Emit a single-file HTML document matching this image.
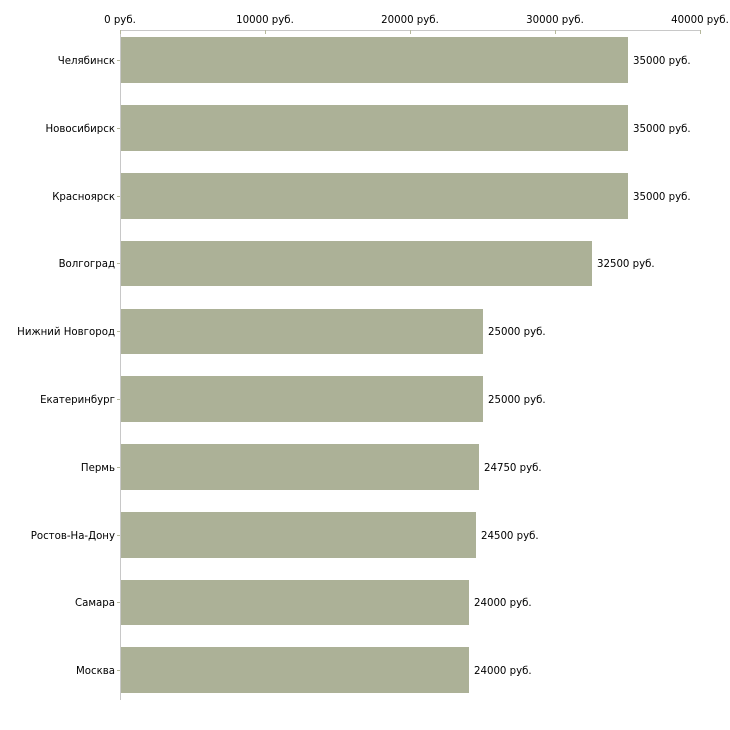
<!DOCTYPE html><html><head><style>body{margin:0;background:#fff}svg{display:block}text{font-family:"DejaVu Sans","Liberation Sans",sans-serif;font-size:10.2px;fill:#000}</style></head><body>
<svg width="730" height="730" xmlns="http://www.w3.org/2000/svg">
<line x1="120" y1="30.5" x2="700" y2="30.5" stroke="#c8c8c8"/>
<line x1="120.5" y1="30" x2="120.5" y2="700" stroke="#c8c8c8"/>
<g stroke="#b5b89c">
<line x1="120.5" y1="30" x2="120.5" y2="34"/><line x1="265.5" y1="30" x2="265.5" y2="34"/><line x1="410.5" y1="30" x2="410.5" y2="34"/><line x1="555.5" y1="30" x2="555.5" y2="34"/><line x1="700.5" y1="30" x2="700.5" y2="34"/>
</g>
<g text-anchor="middle">
<text x="120" y="23">0 руб.</text><text x="265" y="23">10000 руб.</text><text x="410" y="23">20000 руб.</text><text x="555" y="23">30000 руб.</text><text x="700" y="23">40000 руб.</text>
</g>
<g fill="#acb197">
<rect x="121" y="37" width="507" height="46"/>
<rect x="121" y="105" width="507" height="46"/>
<rect x="121" y="173" width="507" height="46"/>
<rect x="121" y="241" width="471" height="45"/>
<rect x="121" y="309" width="362" height="45"/>
<rect x="121" y="376" width="362" height="46"/>
<rect x="121" y="444" width="358" height="46"/>
<rect x="121" y="512" width="355" height="46"/>
<rect x="121" y="580" width="348" height="45"/>
<rect x="121" y="647" width="348" height="46"/>
</g>
<g stroke="#b5b89c">
<line x1="117" y1="60.5" x2="120" y2="60.5"/><line x1="117" y1="128.5" x2="120" y2="128.5"/><line x1="117" y1="196.5" x2="120" y2="196.5"/><line x1="117" y1="263.5" x2="120" y2="263.5"/><line x1="117" y1="331.5" x2="120" y2="331.5"/><line x1="117" y1="399.5" x2="120" y2="399.5"/><line x1="117" y1="467.5" x2="120" y2="467.5"/><line x1="117" y1="535.5" x2="120" y2="535.5"/><line x1="117" y1="602.5" x2="120" y2="602.5"/><line x1="117" y1="670.5" x2="120" y2="670.5"/>
</g>
<g text-anchor="end">
<text x="115" y="64">Челябинск</text><text x="115" y="132">Новосибирск</text><text x="115" y="200">Красноярск</text><text x="115" y="267">Волгоград</text><text x="115" y="335">Нижний Новгород</text><text x="115" y="403">Екатеринбург</text><text x="115" y="471">Пермь</text><text x="115" y="539">Ростов-На-Дону</text><text x="115" y="606">Самара</text><text x="115" y="674">Москва</text>
</g>
<text x="633" y="64">35000 руб.</text><text x="633" y="132">35000 руб.</text><text x="633" y="200">35000 руб.</text><text x="597" y="267">32500 руб.</text><text x="488" y="335">25000 руб.</text><text x="488" y="403">25000 руб.</text><text x="484" y="471">24750 руб.</text><text x="481" y="539">24500 руб.</text><text x="474" y="606">24000 руб.</text><text x="474" y="674">24000 руб.</text>
</svg></body></html>
